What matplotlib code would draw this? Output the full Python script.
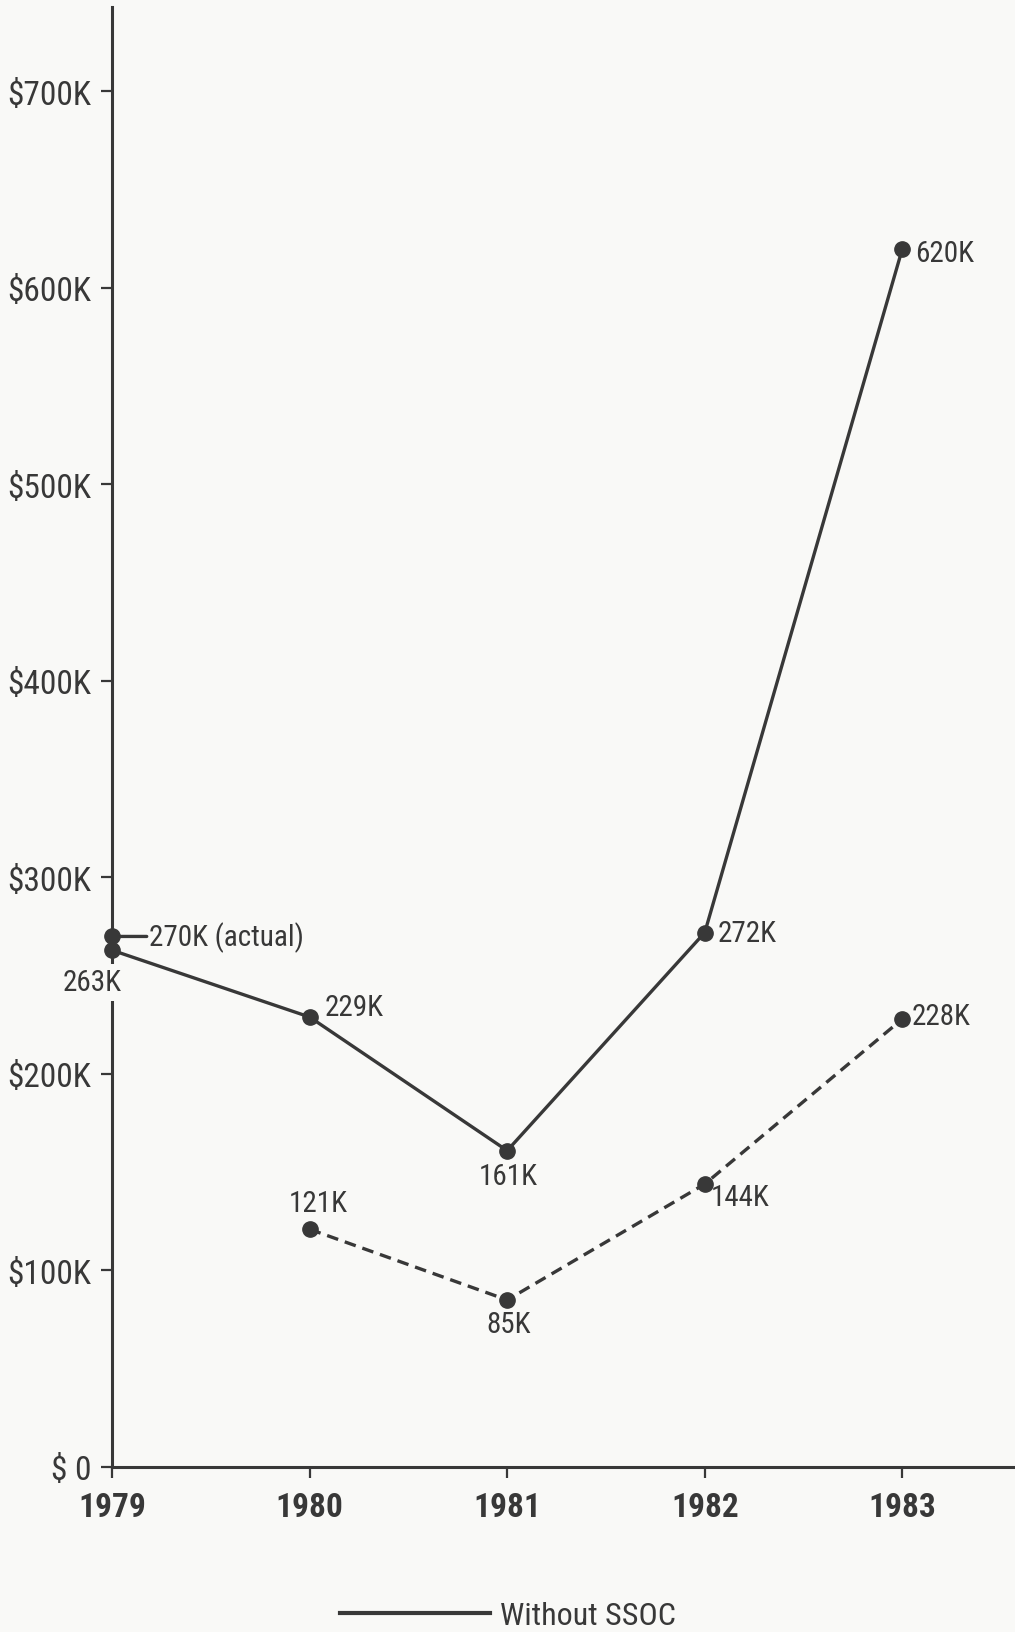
import numpy as np
import matplotlib
matplotlib.use("Agg")
from matplotlib import pyplot as plt
from matplotlib.lines import Line2D

years = [1979, 1980, 1981, 1982, 1983]
without_ssoc = [263, 229, 161, 272, 620]          # $K
with_ssoc = [np.nan, 121, 85, 144, 228]           # $K, no figure for 1979
actual_1979 = 270                                 # $K

yticks = [0, 100, 200, 300, 400, 500, 600, 700]
ytick_labels = ["$ 0", "$100K", "$200K", "$300K", "$400K", "$500K", "$600K", "$700K"]

INK = "#383838"
PAPER = "#f9f9f7"

plt.rcParams["font.family"] = ["Roboto Condensed", "DejaVu Sans"]

fig = plt.figure(figsize=(10.15, 16.33), dpi=100, facecolor=PAPER)
ax = fig.add_axes([112 / 1015, 165 / 1633, 903 / 1015, 1460 / 1633])
ax.set_facecolor(PAPER)

ax.plot(years, without_ssoc, color=INK, lw=2.4, marker="o", ms=11,
        solid_capstyle="round", zorder=3, clip_on=False)
ax.plot(years, with_ssoc, color=INK, lw=2.4, marker="o", ms=11,
        dashes=(3.5, 2.1), zorder=3, clip_on=False)

# 1979 actual, tied to its label by a short stub
ax.plot([years[0]], [actual_1979], color=INK, marker="o", ms=11, zorder=3, clip_on=False)
ax.annotate("270K (actual)", xy=(years[0], actual_1979), xytext=(27, 0),
            textcoords="offset points", ha="left", va="center", fontsize=21, color=INK,
            arrowprops=dict(arrowstyle="-", color=INK, lw=2.4, shrinkA=0, shrinkB=2))

def label(x, y, text, dx, dy, ha="left", **kw):
    ax.annotate(text, xy=(x, y), xytext=(dx, dy), textcoords="offset points",
                ha=ha, va="center", fontsize=21, color=INK, **kw)

# value labels for the solid line (offsets in points);
# the 1979 one sits over the axis, so it gets a paper-coloured backing
label(years[0], without_ssoc[0], "263K", -14, -23, ha="center", zorder=5,
      bbox=dict(boxstyle="square,pad=0.15", fc=PAPER, ec="none"))
label(years[1], without_ssoc[1], "229K", 11, 7)
label(years[2], without_ssoc[2], "161K", 1, -18, ha="center")
label(years[3], without_ssoc[3], "272K", 9, 0)
label(years[4], without_ssoc[4], "620K", 9, -3)

# value labels for the dashed line
label(years[1], with_ssoc[1], "121K", 6, 19, ha="center")
label(years[2], with_ssoc[2], "85K", 1, -17, ha="center")
label(years[3], with_ssoc[3], "144K", 4, -9)
label(years[4], with_ssoc[4], "228K", 7, 2)

ax.set_xlim(1979, 1983.57)
ax.set_ylim(0, 743)

for s in ("top", "right"):
    ax.spines[s].set_visible(False)
for s in ("left", "bottom"):
    ax.spines[s].set_color(INK)
    ax.spines[s].set_linewidth(2.2)

ax.set_yticks(yticks)
ax.set_yticklabels(ytick_labels)
ax.set_xticks(years)
ax.set_xticklabels([str(y) for y in years], fontweight="bold")
ax.tick_params(axis="y", direction="out", length=8, width=1.6, color=INK,
               labelsize=24, labelcolor=INK, pad=7)
ax.tick_params(axis="x", direction="out", length=8, width=1.6, color=INK,
               labelsize=24, labelcolor=INK, pad=9)

handle = Line2D([], [], color=INK, lw=3)
fig.legend([handle], ["Without SSOC"], loc="center left",
           bbox_to_anchor=(340 / 1015, 1 - 1617 / 1633), frameon=False,
           fontsize=23, labelcolor=INK, handlelength=4.7, handletextpad=0.3,
           borderpad=0, borderaxespad=0)

fig.savefig("out.png", dpi=100, facecolor=PAPER)
